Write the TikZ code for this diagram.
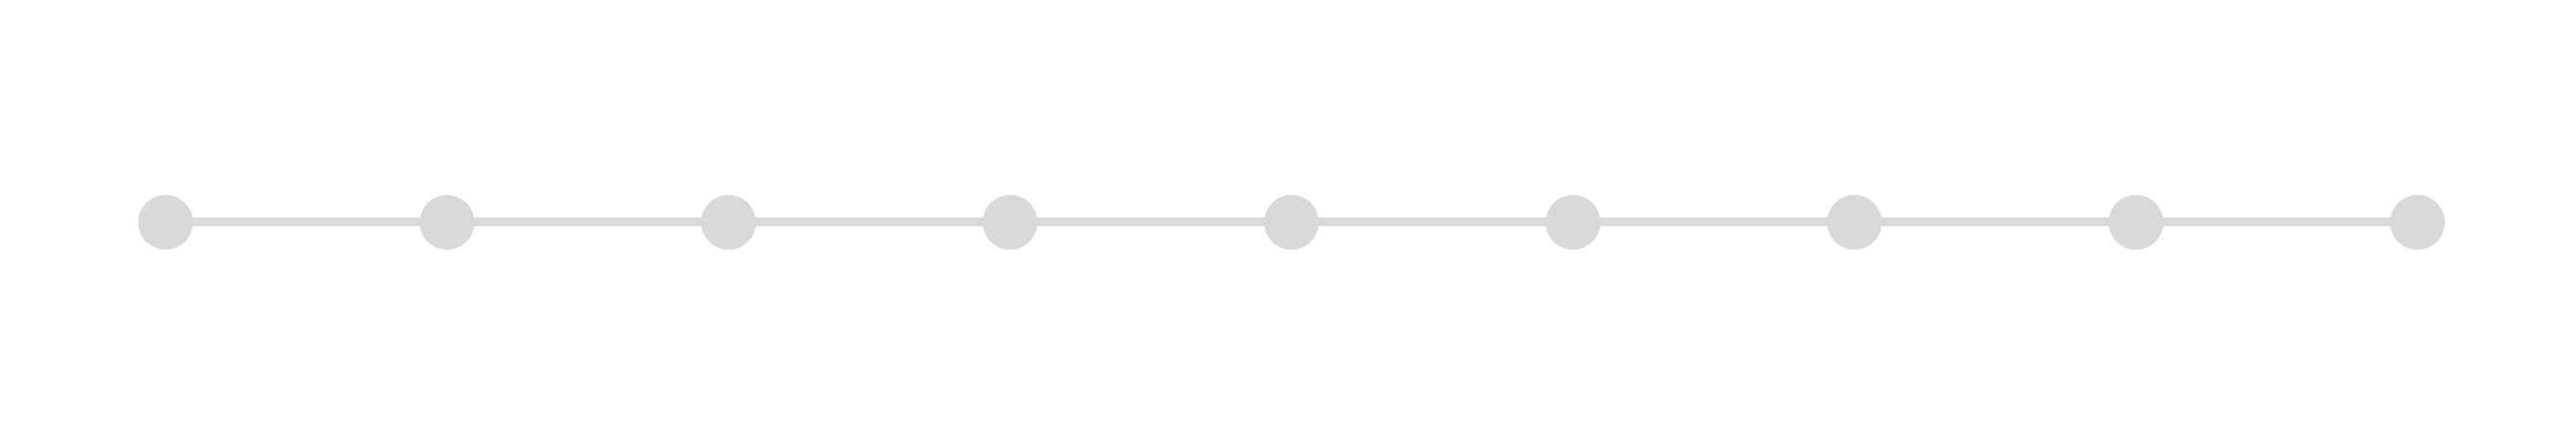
\documentclass[tikz,border=0pt]{standalone}
\usepackage{xcolor}
\definecolor{cinzaC}{RGB}{217,217,217}
\usepackage{tikz}
\usetikzlibrary{positioning}

\begin{document}
\begin{tikzpicture}[
    node distance=2.34cm,
    ponto/.style={circle,fill=#1,inner sep=0pt,minimum size=0.57cm},
    linha/.style={line width=0.09cm,color=#1}
    ]
    \useasboundingbox (0,0) rectangle (26.76,4.53);

    % pontos
    \node[ponto=cinzaC] (p1) at (1.72,2.22) {};
    \foreach \i [count=\j from 1] in {2,...,9}
      \node[ponto=cinzaC, right=of p\j] (p\i) {};

    % ligacoes
    \foreach \i [count=\j from 1] in {2,...,9}
      \draw[linha=cinzaC] (p\j.center) -- (p\i.center);
  \end{tikzpicture}
\end{document}
